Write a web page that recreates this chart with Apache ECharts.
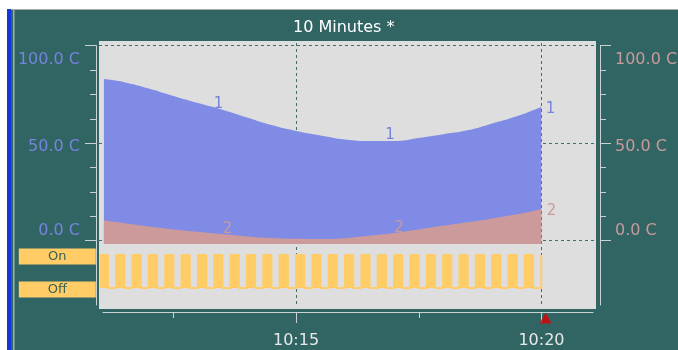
<!DOCTYPE html>
<html>
<head>
<meta charset="utf-8">
<script src="https://cdn.jsdelivr.net/npm/echarts@6/dist/echarts.min.js"></script>
<style>
  html, body { margin: 0; padding: 0; background: #ffffff; }
  #chart { width: 678px; height: 350px; }
</style>
</head>
<body>
<div id="chart"></div>
<script>
// ---- trend data ----
const chartTitle = '10 Minutes *';
const viewRange = ['10:10:59', '10:21:07'];
const timeAxisRange = ['10:11:04', '10:21:03'];
const timeTicksMajor = ['10:15:00', '10:20:00'];
const timeTicksMinor = ['10:12:30', '10:17:30'];
const cursorTime = '10:20:05';
const tempTicks = [0, 50, 100];
const tempUnit = 'C';

const analogTime = ['10:11:05', '10:11:30', '10:12:00', '10:12:30', '10:13:00', '10:13:30', '10:14:00',
  '10:14:30', '10:15:00', '10:15:30', '10:16:00', '10:16:30', '10:17:00', '10:17:30', '10:18:00',
  '10:18:30', '10:19:00', '10:19:30', '10:20:00'];
const pen1 = [82.9, 81.3, 78.0, 74.2, 70.6, 67.2, 63.2, 59.3, 56.3, 54.0, 51.9, 51.1, 51.1, 52.7, 54.6,
  56.6, 60.1, 63.8, 68.6];
const pen2 = [10.3, 9.0, 7.3, 5.8, 4.6, 3.4, 2.2, 1.4, 1.0, 0.9, 1.3, 2.5, 3.9, 5.7, 7.6, 9.4, 11.4,
  13.5, 16.1];
const penNames = ['1', '2'];
const penLabelTimes = ['10:13:30', '10:17:00', '10:20:00'];

const digitalTime = [
  '10:11:00', '10:11:10', '10:11:20', '10:11:30', '10:11:40', '10:11:50',
  '10:12:00', '10:12:10', '10:12:20', '10:12:30', '10:12:40', '10:12:50',
  '10:13:00', '10:13:10', '10:13:20', '10:13:30', '10:13:40', '10:13:50',
  '10:14:00', '10:14:10', '10:14:20', '10:14:30', '10:14:40', '10:14:50',
  '10:15:00', '10:15:10', '10:15:20', '10:15:30', '10:15:40', '10:15:50',
  '10:16:00', '10:16:10', '10:16:20', '10:16:30', '10:16:40', '10:16:50',
  '10:17:00', '10:17:10', '10:17:20', '10:17:30', '10:17:40', '10:17:50',
  '10:18:00', '10:18:10', '10:18:20', '10:18:30', '10:18:40', '10:18:50',
  '10:19:00', '10:19:10', '10:19:20', '10:19:30', '10:19:40', '10:19:50',
  '10:20:00'];
const digitalState = [
  1, 0, 1, 0, 1, 0,
  1, 0, 1, 0, 1, 0,
  1, 0, 1, 0, 1, 0,
  1, 0, 1, 0, 1, 0,
  1, 0, 1, 0, 1, 0,
  1, 0, 1, 0, 1, 0,
  1, 0, 1, 0, 1, 0,
  1, 0, 1, 0, 1, 0,
  1, 0, 1, 0, 1, 0,
  1];
const digitalNames = ['Off', 'On'];

// ---- helpers ----
function toSec(hms) {
  const p = hms.split(':').map(Number);
  return p[0] * 3600 + p[1] * 60 + (p[2] || 0);
}
function fmtHM(sec) {
  const h = Math.floor(sec / 3600), m = Math.floor((sec % 3600) / 60);
  return h + ':' + String(m).padStart(2, '0');
}

const FONT = 'DejaVu Sans';
const C = {
  teal: '#316563', plot: '#dedede', blue: '#7f8be5', pink: '#cc9a9a', orange: '#ffcc66',
  dash: '#3f6f6c', axis: '#c9d3d3', blueText: '#7584dc', pinkText: '#c99a9a', tick: '#e8e8e8'
};

// pen number tags: placed above the trace, and to the right of the last sample
const labelSet = new Set(penLabelTimes);
function penData(values, topDist, topShiftX, endDist, endShift) {
  return analogTime.map((t, i) => {
    const item = { value: [toSec(t), values[i]] };
    if (labelSet.has(t)) {
      const last = i === analogTime.length - 1;
      item.symbol = 'circle';
      item.symbolSize = 1;
      item.itemStyle = { color: 'rgba(0,0,0,0)', borderWidth: 0 };
      item.label = last
        ? { show: true, position: 'right', distance: endDist, offset: [0, endShift] }
        : { show: true, position: 'top', distance: topDist, offset: [topShiftX, 0] };
    }
    return item;
  });
}

const vMin = toSec(viewRange[0]), vMax = toSec(viewRange[1]);
const hidden = { show: false };
function hx(grid) { return { type: 'value', gridIndex: grid, min: vMin, max: vMax, show: false }; }
function hy(grid, min, max) { return { type: 'value', gridIndex: grid, min: min, max: max, show: false }; }

// scale labels sit inside the axis span: top label below its tick, bottom label above
function tempLabel(v) {
  const txt = v.toFixed(1) + ' ' + tempUnit;
  if (v === 100) return '{t|' + txt + '}';
  if (v === 0) return '{b|' + txt + '}';
  return '{m|' + txt + '}';
}
function tempRich(color) {
  const base = { color: color, fontSize: 16, fontFamily: FONT };
  return {
    t: Object.assign({ padding: [28, 0, 0, 0] }, base),
    m: Object.assign({ padding: [8, 0, 0, 0] }, base),
    b: Object.assign({ padding: [0, 0, 20, 0] }, base)
  };
}
function scaleAxis(pos, offset, color, margin, split) {
  return {
    type: 'value', gridIndex: 2, position: pos, offset: offset,
    min: tempTicks[0], max: tempTicks[tempTicks.length - 1], interval: 50,
    axisLine: { show: true, onZero: false, lineStyle: { color: C.axis, width: 1 } },
    axisTick: { show: true, length: 11, lineStyle: { color: C.axis, width: 1 } },
    minorTick: { show: true, splitNumber: 4, length: 6, lineStyle: { color: C.axis, width: 1 } },
    axisLabel: { show: true, margin: margin, formatter: tempLabel, rich: tempRich(color),
      color: color, fontSize: 16, fontFamily: FONT },
    splitLine: { show: split, lineStyle: { color: C.dash, type: [3, 3], width: 1 } }
  };
}
function stubAxis(pos, offset) {
  return {
    type: 'value', gridIndex: 3, position: pos, offset: offset, min: 0, max: 1,
    axisLine: { show: true, onZero: false, lineStyle: { color: C.axis, width: 1 } },
    axisTick: hidden, axisLabel: hidden, splitLine: hidden
  };
}

const tMin = toSec(timeAxisRange[0]), tMax = toSec(timeAxisRange[1]);
const grids = [
  { left: 99, top: 41, width: 497, height: 268, show: true, backgroundColor: C.plot, borderWidth: 0 },
  { left: 99, top: 45.7, width: 497, height: 198.3 },
  { left: 99, top: 45.7, width: 497, height: 195 },
  { left: 99, top: 240.7, width: 497, height: 64.3 },
  { left: 99, top: 255, width: 497, height: 33 },
  { left: 99, top: 43, width: 497, height: 264 },
  { left: 103, top: 300, width: 490, height: 12 }
].map(g => Object.assign({ containLabel: false, outerBoundsMode: 'none' }, g));

const option = {
  animation: false,
  backgroundColor: C.teal,
  title: {
    text: chartTitle, left: 288, top: 15,
    textStyle: { color: '#ffffff', fontSize: 16, fontWeight: 'normal', fontFamily: FONT }
  },
  graphic: [
    { type: 'rect', left: 0, top: 0, shape: { width: 678, height: 9 }, style: { fill: '#ffffff' }, silent: true },
    { type: 'rect', left: 7, top: 9, shape: { width: 671, height: 1 }, style: { fill: '#a9aba4' }, silent: true },
    { type: 'rect', left: 0, top: 0, shape: { width: 7, height: 350 }, style: { fill: '#ffffff' }, silent: true },
    { type: 'rect', left: 7, top: 9, shape: { width: 4, height: 341 }, style: { fill: '#1236dc' }, silent: true },
    { type: 'rect', left: 13, top: 10, shape: { width: 1.5, height: 340 }, style: { fill: '#9fb1b0' }, silent: true }
  ],
  grid: grids,
  xAxis: [
    hx(0), hx(1), hx(2), hx(3), hx(4),
    {
      type: 'value', gridIndex: 5, min: vMin, max: vMax,
      axisLine: hidden, axisLabel: hidden,
      axisTick: { show: false, customValues: timeTicksMajor.map(toSec) },
      splitLine: { show: true, lineStyle: { color: C.dash, type: [3, 3], width: 1 } }
    },
    {
      type: 'value', gridIndex: 6, position: 'bottom', min: tMin, max: tMax,
      axisLine: { show: true, onZero: false, lineStyle: { color: C.axis, width: 1 } },
      axisTick: { show: true, length: 6, customValues: timeTicksMinor.map(toSec), lineStyle: { color: C.axis } },
      axisLabel: { show: false }, splitLine: hidden
    },
    {
      type: 'value', gridIndex: 6, position: 'bottom', offset: 0, min: tMin, max: tMax,
      axisLine: { show: false, onZero: false },
      axisTick: { show: true, length: 11, customValues: timeTicksMajor.map(toSec), lineStyle: { color: C.axis } },
      axisLabel: {
        show: true, customValues: timeTicksMajor.map(toSec), formatter: fmtHM, margin: 21,
        color: C.tick, fontSize: 16, fontFamily: FONT
      },
      splitLine: hidden
    }
  ],
  yAxis: [
    hy(0, 0, 1),
    hy(1, -1.7, 100),
    scaleAxis('left', 3, C.blueText, 16, true),
    scaleAxis('right', 4, C.pinkText, 15, false),
    stubAxis('left', 3),
    stubAxis('right', 4),
    {
      type: 'value', gridIndex: 4, min: 0, max: 1, interval: 1,
      axisLine: hidden, axisTick: hidden, splitLine: hidden,
      axisLabel: {
        show: true, margin: 41.7, align: 'center', verticalAlign: 'middle',
        padding: [3, 0, 0, 0],
        formatter: v => '{box|' + digitalNames[v] + '}',
        rich: {
          box: {
            backgroundColor: C.orange, width: 77, height: 16, lineHeight: 16, align: 'center',
            color: '#3b5f52', fontSize: 13, fontFamily: FONT
          }
        }
      }
    },
    hy(5, 0, 1),
    hy(6, 0, 1)
  ],
  series: [
    {
      name: penNames[0], type: 'line', xAxisIndex: 1, yAxisIndex: 1,
      data: penData(pen1, -2, -4, 4, 2), smooth: true, symbol: 'none', showSymbol: true,
      lineStyle: { width: 0 }, areaStyle: { color: C.blue, opacity: 1, origin: 'start' },
      label: { show: false, formatter: '{a}', color: C.blueText, fontSize: 15, fontFamily: FONT },
      z: 3
    },
    {
      name: penNames[1], type: 'line', xAxisIndex: 1, yAxisIndex: 1,
      data: penData(pen2, -3, 5, 5, 2), smooth: true, symbol: 'none', showSymbol: true,
      lineStyle: { width: 0 }, areaStyle: { color: C.pink, opacity: 1, origin: 'start' },
      label: { show: false, formatter: '{a}', color: C.pinkText, fontSize: 15, fontFamily: FONT },
      z: 4
    },
    {
      name: 'digital', type: 'line', xAxisIndex: 4, yAxisIndex: 6, step: 'end',
      data: digitalTime.map((t, i) => [toSec(t), digitalState[i]]),
      showSymbol: false, symbol: 'none',
      lineStyle: { color: C.orange, width: 2 }, areaStyle: { color: C.orange, opacity: 1 },
      z: 3
    },
    {
      name: 'cursor', type: 'scatter', xAxisIndex: 6, yAxisIndex: 8, clip: false,
      data: [[toSec(cursorTime), -0.5]], symbol: 'triangle', symbolSize: [12, 11],
      itemStyle: { color: '#e00000' }, z: 5
    }
  ]
};

const chart = echarts.init(document.getElementById('chart'), null, { renderer: 'canvas' });
chart.setOption(option);
</script>
</body>
</html>
